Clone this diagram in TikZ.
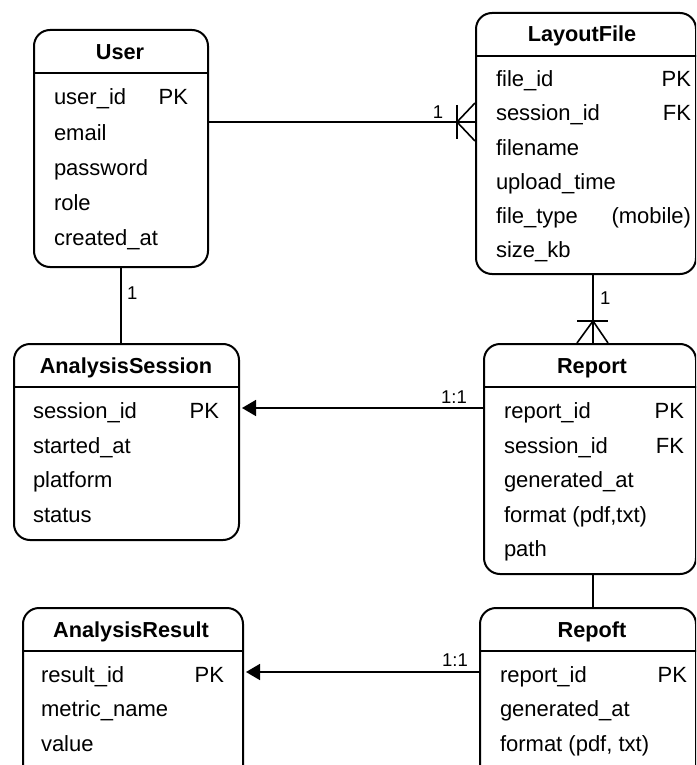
\documentclass[tikz,border=0pt]{standalone}
\usepackage{fontspec}
\setmainfont{Liberation Sans}
\usetikzlibrary{arrows.meta}

\def\rowsep{34.5}

\begin{document}
\begin{tikzpicture}[x=1pt, y=-1pt, line width=2pt,
    font=\fontsize{22}{26}\selectfont]
    \tikzstyle{entity}=[draw, rounded corners=16pt, anchor=north west, inner sep=0pt]
    \tikzstyle{entity title}=[anchor=base, inner sep=0pt, font=\fontsize{21.7}{26}\selectfont\bfseries]
    \tikzstyle{field}=[anchor=base west, inner sep=0pt]
    \tikzstyle{key}=[anchor=base east, inner sep=0pt]
    \tikzstyle{link}=[line width=1.6pt]
    \tikzstyle{card}=[inner sep=0pt, font=\fontsize{18.5}{22}\selectfont]
    \tikzstyle{one arrow}=[link, shorten >=2pt, -{Triangle[length=14pt, width=16pt]}]

    \useasboundingbox (0,0) rectangle (696,765);
    \clip (0,0) rectangle (696,765);

    % Draw the entity boxes
    \node[entity, minimum width=174pt, minimum height=237pt] (User) at (33,29) {};
    \node[entity, minimum width=220pt, minimum height=261pt] (LayoutFile) at (475,12) {};
    \node[entity, minimum width=225pt, minimum height=196pt] (Session) at (13,343) {};
    \node[entity, minimum width=212pt, minimum height=230pt] (Report) at (483,343) {};
    \node[entity, minimum width=220pt, minimum height=220pt] (Result) at (22,607) {};
    \node[entity, minimum width=216pt, minimum height=220pt] (Repoft) at (479,607) {};

    % Line under each title
    \foreach \ent in {User, LayoutFile, Session, Report, Result, Repoft}
        \draw ([yshift=-44pt]\ent.north west) -- ([yshift=-44pt]\ent.north east);

    % Titles
    \node[entity title] (User-title) at (120,60) {User};
    \node[entity title] (LayoutFile-title) at (582,42) {LayoutFile};
    \node[entity title] (Session-title) at (126,373) {AnalysisSession};
    \node[entity title] (Report-title) at (592,373) {Report};
    \node[entity title] (Result-title) at (131,637) {AnalysisResult};
    \node[entity title] (Repoft-title) at (592,637) {Repoft};

    % Fields of each entity
    \foreach \name [count=\i] in {user\_id, email, password, role, created\_at}
        \node[field] (User-\i) at (53,70+35*\i) {\name};
    \foreach \name [count=\i] in {file\_id, session\_id, filename, upload\_time, file\_type, size\_kb}
        \node[field] (LayoutFile-\i) at (495,53+34*\i) {\name};
    \foreach \name [count=\i] in {session\_id, started\_at, platform, status}
        \node[field] (Session-\i) at (32,384+\rowsep*\i) {\name};
    \foreach \name [count=\i] in {report\_id, session\_id, generated\_at, {format (pdf,txt)}, path}
        \node[field] (Report-\i) at (503,384+\rowsep*\i) {\name};
    \foreach \name [count=\i] in {result\_id, metric\_name, value}
        \node[field] (Result-\i) at (40,647.5+\rowsep*\i) {\name};
    \foreach \name [count=\i] in {report\_id, generated\_at, {format (pdf, txt)}}
        \node[field] (Repoft-\i) at (499,647.5+\rowsep*\i) {\name};

    % Keys on the right of the fields
    \node[key] (User-pk) at (189,105) {PK};
    \node[key] (LayoutFile-pk) at (692,87) {PK};
    \node[key] (LayoutFile-fk) at (692,121) {FK};
    \node[key] (LayoutFile-type) at (692,223) {(mobile)};
    \node[key] (Session-pk) at (220,418.5) {PK};
    \node[key] (Report-pk) at (685,418.5) {PK};
    \node[key] (Report-fk) at (685,453) {FK};
    \node[key] (Result-pk) at (225,682) {PK};
    \node[key] (Repoft-pk) at (688,682) {PK};

    % User to LayoutFile, one to many
    \coordinate (UL-foot) at (457,122);
    \draw[link] (User.east |- UL-foot) -- (LayoutFile.west |- UL-foot);
    \draw[link] ([yshift=17pt]UL-foot) -- ([yshift=-17pt]UL-foot);
    \draw[link] (LayoutFile.west |- 0,103) -- (UL-foot) -- (LayoutFile.west |- 0,141);
    \node[card, anchor=base] (UL-card) at (438,119) {1};

    % User to AnalysisSession
    \draw[link] (User.south) -- (User.south |- Session.north);
    \node[card, anchor=base west] (US-card) at (126,299) {1};

    % LayoutFile to Report, one to many
    \coordinate (LR-foot) at (593,321);
    \draw[link] (LayoutFile.south -| LR-foot) -- (Report.north -| LR-foot);
    \draw[link] ([xshift=-16pt]LR-foot) -- ([xshift=15pt]LR-foot);
    \draw[link] (Report.north -| 577,0) -- (LR-foot) -- (Report.north -| 608,0);
    \node[card, anchor=base west] (LR-card) at (599,304) {1};

    % Report to AnalysisSession
    \draw[one arrow] (Report.west |- 0,408) -- (Session.east |- 0,408);
    \node[card, anchor=base] (RS-card) at (454,403) {1:1};

    % Report to Repoft
    \draw[link] (Report.south -| 593,0) -- (Repoft.north -| 593,0);

    % Repoft to AnalysisResult
    \draw[one arrow] (Repoft.west |- 0,672) -- (Result.east |- 0,672);
    \node[card, anchor=base] (RR-card) at (455,666) {1:1};
\end{tikzpicture}
\end{document}
